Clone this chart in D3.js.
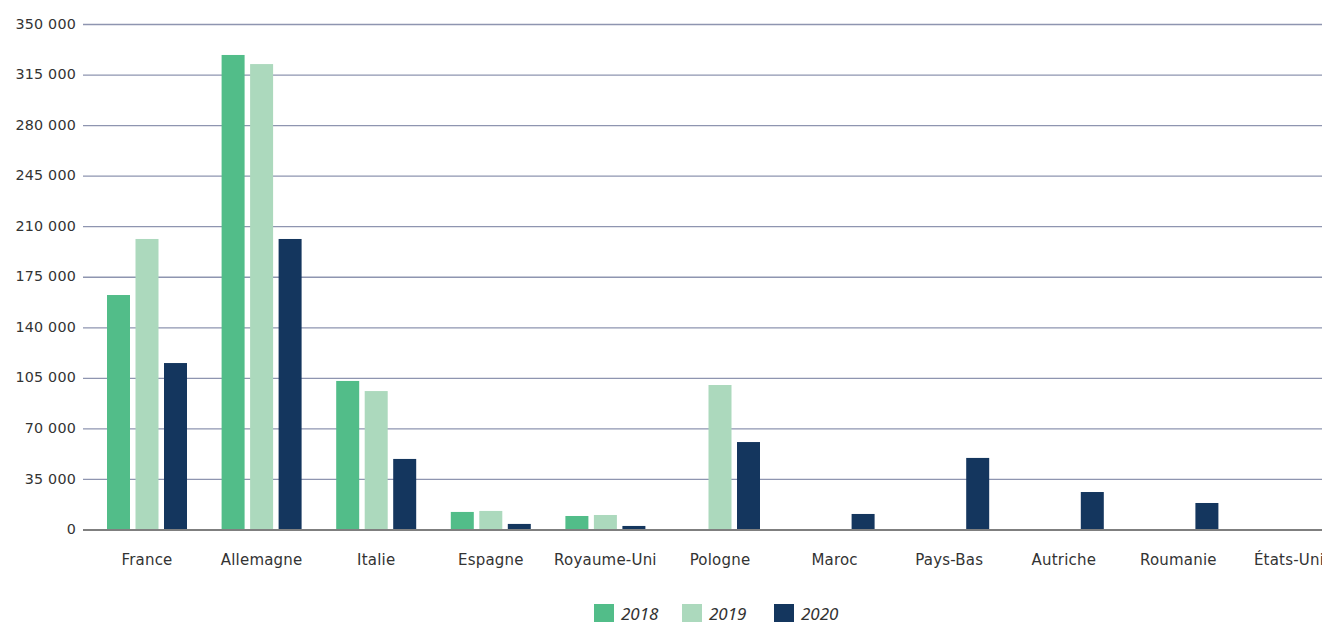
<!DOCTYPE html>
<html>
<head>
<meta charset="utf-8">
<script src="https://cdn.jsdelivr.net/npm/d3@7"></script>
<style>
  html, body { margin: 0; padding: 0; background: #fff; }
  svg { display: block; font-family: "DejaVu Sans", sans-serif; }
</style>
</head>
<body>
<svg id="chart" width="1322" height="622"></svg>
<script>
const categories = ["France", "Allemagne", "Italie", "Espagne", "Royaume-Uni", "Pologne", "Maroc", "Pays-Bas", "Autriche", "Roumanie", "États-Unis"];
const years = ["2018", "2019", "2020"];
const values2018 = [162700, 328900, 103200, 12500, 9700, 0, 0, 0, 0, 0, 0];
const values2019 = [201500, 322600, 96200, 13200, 10400, 100400, 0, 0, 0, 0, 0];
const values2020 = [115600, 201500, 49200, 4200, 2800, 60900, 11100, 49900, 26300, 18700, 0];
const tickValues = [0, 35000, 70000, 105000, 140000, 175000, 210000, 245000, 280000, 315000, 350000];
const colors = ["#52bd89", "#acd9bd", "#14365e"];

const seriesValues = [values2018, values2019, values2020];
const data = categories.map((c, i) => ({
  category: c,
  values: years.map((y, j) => ({ year: y, value: seriesValues[j][i] }))
}));

const svg = d3.select("#chart");
const axisLeft = 83, axisRight = 1322;

const y = d3.scaleLinear().domain([0, 350000]).range([530, 24.5]);
const x0 = d3.scaleBand().domain(categories).range([89.7, 89.7 + 114.6 * categories.length]).padding(0);
const x1 = d3.scaleBand().domain(years).range([0, x0.bandwidth()]).paddingInner(0.193).paddingOuter(0.607);
const color = d3.scaleOrdinal().domain(years).range(colors);

const fmt = v => d3.format(",")(v).replace(/,/g, " ");

// gridlines
svg.append("g")
  .selectAll("line")
  .data(tickValues.filter(t => t > 0))
  .join("line")
  .attr("x1", axisLeft).attr("x2", axisRight)
  .attr("y1", d => y(d)).attr("y2", d => y(d))
  .attr("stroke", "#8e95b0").attr("stroke-width", 1.3);

// y axis labels
const yAxis = d3.axisLeft(y).tickValues(tickValues).tickSize(0).tickPadding(0).tickFormat(fmt);
const yg = svg.append("g").attr("transform", `translate(76,0)`).call(yAxis);
yg.select(".domain").remove();
yg.selectAll("text")
  .attr("font-size", 14.3).attr("fill", "#333")
  .attr("font-family", "DejaVu Sans, sans-serif")
  .attr("letter-spacing", 0.2)
  .attr("dy", "0.25em");

// bars
const groups = svg.append("g")
  .selectAll("g")
  .data(data)
  .join("g")
  .attr("transform", d => `translate(${x0(d.category)},0)`);

groups.selectAll("rect")
  .data(d => d.values.filter(v => v.value > 0))
  .join("rect")
  .attr("x", d => x1(d.year))
  .attr("width", x1.bandwidth())
  .attr("y", d => y(d.value))
  .attr("height", d => y(0) - y(d.value))
  .attr("fill", d => color(d.year));

// baseline
svg.append("line")
  .attr("x1", axisLeft).attr("x2", axisRight)
  .attr("y1", y(0)).attr("y2", y(0))
  .attr("stroke", "#7f7f7f").attr("stroke-width", 1.8);

// x axis labels
const xAxis = d3.axisBottom(x0).tickSize(0).tickPadding(0);
const xg = svg.append("g").attr("transform", `translate(0,${y(0)})`).call(xAxis);
xg.select(".domain").remove();
xg.selectAll("text")
  .attr("dy", null)
  .attr("y", 35)
  .attr("font-size", 15).attr("fill", "#333")
  .attr("font-family", "DejaVu Sans, sans-serif")
  .attr("letter-spacing", 0.2);

// legend
const legendX = [594, 682, 774];
const legend = svg.append("g")
  .selectAll("g")
  .data(years)
  .join("g")
  .attr("transform", (d, i) => `translate(${legendX[i]},604)`);
legend.append("rect").attr("width", 20).attr("height", 20).attr("fill", d => color(d));
legend.append("text")
  .attr("x", 27).attr("y", 15.5)
  .attr("font-family", "Noto Sans, sans-serif")
  .attr("font-size", 17).attr("font-style", "italic").attr("fill", "#333")
  .text(d => d);
</script>
</body>
</html>
